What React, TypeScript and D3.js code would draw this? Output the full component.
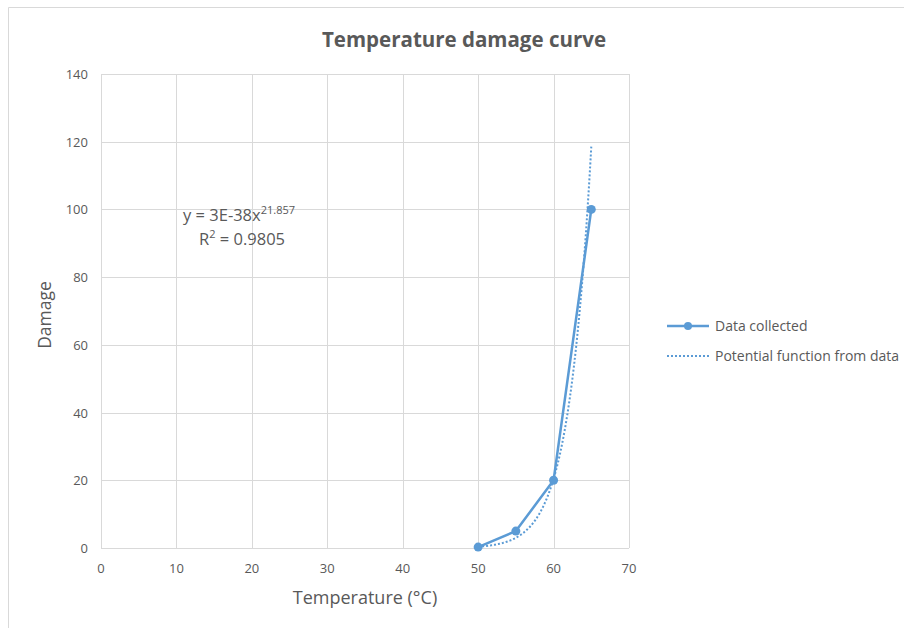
import React from "react";
import * as d3 from "d3";

// Measured temperatures (°C) and the resulting damage
const temperatures = [50, 55, 60, 65];
const damage = [0.27, 5, 20, 100];

const xTicks = [0, 10, 20, 30, 40, 50, 60, 70];
const yTicks = [0, 20, 40, 60, 80, 100, 120, 140];

const title = "Temperature damage curve";
const xTitle = "Temperature (°C)";
const yTitle = "Damage";
const equationText = "y = 3E-38x";
const equationExponent = "21.857";
const rSquaredText = "0.9805";
const legendLabels = ["Data collected", "Potential function from data"];

const W = 904;
const H = 628;
const plot = { left: 101, right: 629, top: 74, bottom: 548 };
const BLUE = "#5b9bd5";
const GRID = "#d9d9d9";
const TEXT = "#595959";
const FONT = "'Open Sans', 'Noto Sans', sans-serif";

// Power-law trendline y = a * x^b, fitted by least squares in log-log space
function powerFit(xs: number[], ys: number[]) {
  const lx = xs.map(Math.log);
  const ly = ys.map(Math.log);
  const mx = d3.mean(lx)!;
  const my = d3.mean(ly)!;
  const sxy = d3.sum(lx, (v, i) => (v - mx) * (ly[i] - my));
  const sxx = d3.sum(lx, (v) => (v - mx) ** 2);
  const b = sxy / sxx;
  const a = Math.exp(my - b * mx);
  return { a, b };
}

export default function App() {
  const x = d3.scaleLinear().domain([0, 70]).range([plot.left, plot.right]);
  const y = d3.scaleLinear().domain([0, 140]).range([plot.bottom, plot.top]);

  const points = temperatures.map((t, i) => ({ t, d: damage[i] }));
  const dataLine = d3
    .line<{ t: number; d: number }>()
    .x((p) => x(p.t))
    .y((p) => y(p.d));

  const { a, b } = powerFit(temperatures, damage);
  const [xMin, xMax] = d3.extent(temperatures) as [number, number];
  const trendX = d3.range(xMin, xMax + 0.001, 0.1);
  const trendLine = d3
    .line<number>()
    .x((t) => x(t))
    .y((t) => y(a * Math.pow(t, b)))
    .curve(d3.curveMonotoneX);

  return (
    <svg
      width={W}
      height={H}
      style={{ position: "fixed", left: 0, top: 0, background: "#fff" }}
      fontFamily={FONT}
    >
      {/* chart frame */}
      <line x1={8.5} y1={7.5} x2={W} y2={7.5} stroke={GRID} strokeWidth={1} />
      <line x1={8.5} y1={7.5} x2={8.5} y2={H} stroke={GRID} strokeWidth={1} />

      <text
        x={464}
        y={47}
        textAnchor="middle"
        fontSize={20.5}
        fontWeight="bold"
        fill={TEXT}
      >
        {title}
      </text>

      {/* grid */}
      {yTicks.map((v) => (
        <line
          key={"gy" + v}
          x1={plot.left}
          x2={plot.right}
          y1={Math.round(y(v)) + 0.5}
          y2={Math.round(y(v)) + 0.5}
          stroke={GRID}
        />
      ))}
      {xTicks.map((v) => (
        <line
          key={"gx" + v}
          x1={Math.round(x(v)) + 0.5}
          x2={Math.round(x(v)) + 0.5}
          y1={plot.top}
          y2={plot.bottom}
          stroke={GRID}
        />
      ))}

      {/* tick labels */}
      {yTicks.map((v) => (
        <text
          key={"ty" + v}
          x={88}
          y={y(v) + 5}
          textAnchor="end"
          fontSize={13}
          fill={TEXT}
        >
          {v}
        </text>
      ))}
      {xTicks.map((v) => (
        <text
          key={"tx" + v}
          x={x(v)}
          y={573}
          textAnchor="middle"
          fontSize={13}
          fill={TEXT}
        >
          {v}
        </text>
      ))}

      {/* axis titles */}
      <text
        x={365}
        y={604}
        textAnchor="middle"
        fontSize={18}
        fill={TEXT}
      >
        {xTitle}
      </text>
      <text
        transform={`translate(51, 315) rotate(-90)`}
        textAnchor="middle"
        fontSize={17.5}
        fill={TEXT}
      >
        {yTitle}
      </text>

      {/* trendline */}
      <path
        d={trendLine(trendX) ?? ""}
        fill="none"
        stroke={BLUE}
        strokeWidth={2}
        strokeDasharray="2 2"
      />

      {/* data series */}
      <path
        d={dataLine(points) ?? ""}
        fill="none"
        stroke={BLUE}
        strokeWidth={2.5}
        strokeLinejoin="round"
      />
      {points.map((p) => (
        <circle key={p.t} cx={x(p.t)} cy={y(p.d)} r={4.5} fill={BLUE} />
      ))}

      {/* trendline equation */}
      <text x={183} y={221} fontSize={16.5} fill={TEXT}>
        {equationText}
        <tspan dy={-7} fontSize={11}>
          {equationExponent}
        </tspan>
      </text>
      <text x={199} y={245} fontSize={16.5} fill={TEXT}>
        R
        <tspan dy={-7} fontSize={11}>
          2
        </tspan>
        <tspan dy={7}>{" = " + rSquaredText}</tspan>
      </text>

      {/* legend */}
      <line x1={667} x2={709} y1={326} y2={326} stroke={BLUE} strokeWidth={2.5} />
      <circle cx={688} cy={326} r={4} fill={BLUE} />
      <text x={715} y={331} fontSize={14} fill={TEXT}>
        {legendLabels[0]}
      </text>
      <line
        x1={667}
        x2={709}
        y1={356}
        y2={356}
        stroke={BLUE}
        strokeWidth={2}
        strokeDasharray="2 2"
      />
      <text x={715} y={361} fontSize={14} fill={TEXT}>
        {legendLabels[1]}
      </text>
    </svg>
  );
}
